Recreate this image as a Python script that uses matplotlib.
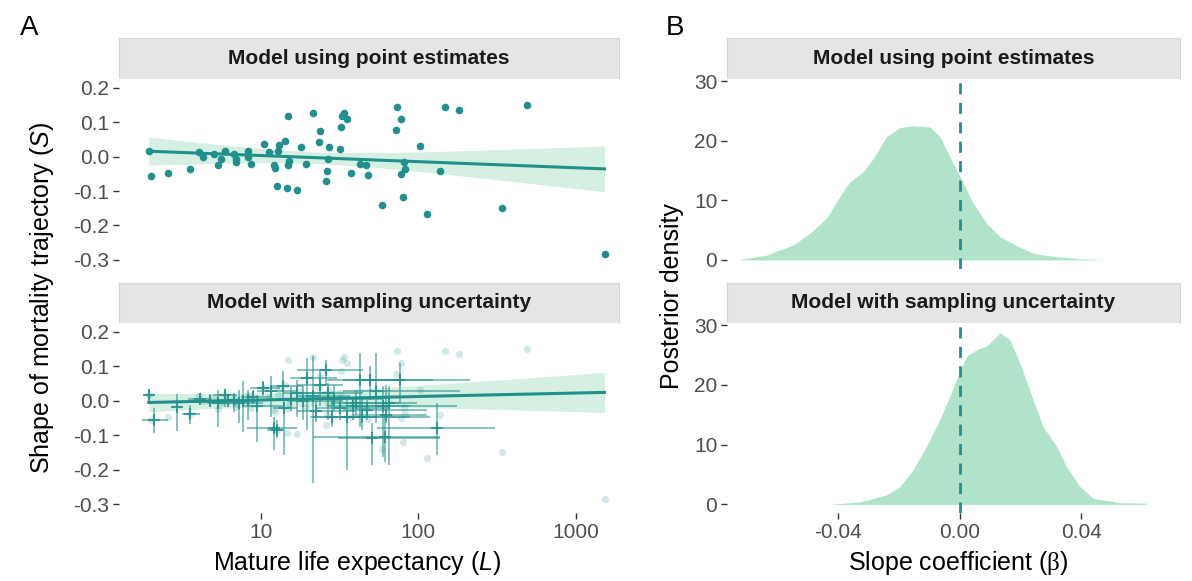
import numpy as np
import matplotlib
matplotlib.use("Agg")
import matplotlib.pyplot as plt

plt.rcParams['font.family'] = ['Liberation Sans', 'DejaVu Sans']
plt.rcParams['mathtext.fontset'] = 'custom'
plt.rcParams['mathtext.rm'] = 'Liberation Sans'
plt.rcParams['mathtext.it'] = 'Liberation Sans:italic'
plt.rcParams['mathtext.sf'] = 'Liberation Serif'   # serif slot, used for the Greek beta
plt.rcParams['axes.unicode_minus'] = False

TEAL = '#21908C'
RIBBON = '#D5F0E2'
DENS = '#B0E3C9'
STRIP = '#E5E5E5'

# point estimates of mature life expectancy (L) and shape (S) per species
pts_L = [1.96, 2.01, 2.59, 3.57, 4.07, 4.33, 5.08, 5.39, 5.60, 5.92,
         6.77, 6.94, 7.0, 8.30, 8.27, 8.72, 10.5, 11.3, 12.2, 12.4,
         12.6, 12.9, 13.1, 14.2, 14.8, 14.6, 15.2, 14.8, 16.9, 18.0,
         19.5, 21.6, 23.9, 23.5, 27.1, 26.7, 26.3, 25.8, 31.9, 32.5,
         32.6, 33.7, 35.4, 37.2, 42.8, 46.3, 47.6, 59.0, 71.7, 72.8,
         77.6, 80.6, 82.3, 77.1, 80.2, 102.8, 112.7, 136.4, 146.7, 181.7,
         338.5, 485, 1524]
pts_S = [0.017, -0.055, -0.048, -0.037, 0.013, -0.001, 0.008, -0.024, -0.007, 0.017,
         0.008, -0.007, -0.017, 0.016, -0.001, -0.021, 0.037, 0.012, -0.025, -0.032,
         -0.086, 0.017, 0.033, 0.046, 0.119, -0.092, -0.013, -0.024, -0.096, 0.027,
         -0.022, 0.128, 0.073, 0.041, 0.029, -0.007, -0.041, -0.070, 0.022, 0.087,
         0.118, 0.126, 0.110, -0.048, -0.021, -0.025, -0.054, -0.140, 0.078, 0.144,
         0.110, -0.017, -0.035, -0.050, -0.118, 0.030, -0.167, -0.042, 0.144, 0.135,
         -0.149, 0.150, -0.284]

# species with sampling uncertainty: centre and interval bounds
unc_L = [1.97, 2.12, 2.93, 3.56, 4.12, 4.77, 5.39, 5.94, 6.77, 7.32,
         7.76, 8.35, 9.52, 10.4, 11.7, 12.1, 12.6, 13.9, 14.1, 16.9,
         18.5, 19.6, 21.6, 23.8, 25.9, 26.9, 28.2, 31.8, 35.1, 38.7,
         42.6, 43.7, 47.0, 49.3, 50.5, 53.8, 59.3, 61.4, 62.3, 64.8,
         76.4, 130.6, 15.5, 22.5, 29.0, 9.0, 6.2, 40.0]
unc_L_lo = [1.85, 1.78, 2.73, 3.15, 3.48, 4.12, 4.54, 5.01, 5.52, 5.79,
            6.39, 7.04, 7.76, 8.55, 9.43, 8.15, 10.9, 11.5, 12.0, 13.9,
            14.6, 15.3, 16.9, 16.9, 16.9, 18.6, 20.5, 22.6, 21.6, 26.2,
            26.2, 31.8, 33.4, 33.4, 31.1, 33.4, 38.7, 21.6, 38.7, 33.4,
            44.8, 54.4, 12.5, 17.0, 20.0, 7.5, 5.3, 28.0]
unc_L_hi = [2.14, 2.60, 3.15, 4.12, 4.77, 5.79, 6.71, 7.04, 8.55, 10.4,
            9.43, 12.6, 13.9, 13.3, 16.9, 16.9, 13.9, 18.6, 16.9, 26.2,
            33.4, 30.3, 36.8, 33.4, 44.8, 44.8, 54.4, 66.1, 118.5, 88.5,
            80.3, 88.5, 112.8, 124.4, 137.1, 183.5, 174.8, 137.1, 112.8, 97.5,
            212.4, 306.0, 22.0, 40.0, 60.0, 11.5, 7.5, 75.0]
unc_S = [0.0175, -0.055, -0.018, -0.038, 0.006, -0.002, -0.007, 0.018, 0.003, -0.007,
         -0.002, 0.003, -0.016, 0.037, 0.027, -0.079, -0.084, 0.044, -0.021, 0.022,
         -0.002, 0.066, 0.013, 0.047, 0.090, 0.022, -0.046, -0.021, -0.046, -0.016,
         0.061, -0.046, -0.026, 0.061, -0.107, 0.027, -0.016, -0.104, -0.041, -0.007,
         0.061, -0.079, 0.005, -0.030, 0.005, 0.010, 0.000, -0.005]
unc_S_lo = [-0.002, -0.094, -0.087, -0.067, -0.013, -0.018, -0.077, -0.018, -0.031, -0.065,
            -0.089, -0.055, -0.118, 0.013, -0.046, -0.142, -0.109, 0.003, -0.157, -0.046,
            -0.055, -0.084, -0.239, -0.016, 0.042, -0.055, -0.075, -0.055, -0.201, -0.055,
            -0.075, -0.084, -0.055, 0.003, -0.186, -0.065, -0.162, -0.176, -0.065, -0.186,
            -0.007, -0.157, -0.030, -0.060, -0.030, -0.010, -0.015, -0.040]
unc_S_hi = [0.032, -0.021, 0.020, -0.012, 0.024, 0.020, 0.030, 0.034, 0.024, 0.032,
            0.056, 0.032, 0.018, 0.056, 0.073, -0.046, -0.055, 0.085, 0.003, 0.061,
            0.042, 0.124, 0.129, 0.090, 0.119, 0.051, 0.003, 0.013, 0.003, 0.008,
            0.139, 0.013, 0.003, 0.100, -0.065, 0.139, 0.042, -0.046, 0.047, 0.042,
            0.110, -0.007, 0.040, 0.000, 0.045, 0.030, 0.015, 0.030]

# fitted regression lines with credible bands
fit_L = [1.95, 3.98, 8.91, 22.4, 56.2, 125.9, 316, 708, 1514]
fit1_S = [0.0157, 0.0102, 0.0040, -0.0031, -0.0103, -0.0165, -0.0236, -0.0298, -0.0357]
fit1_lo = [-0.0250, -0.0208, -0.0176, -0.0194, -0.0319, -0.0475, -0.0673, -0.0851, -0.1022]
fit1_hi = [0.0564, 0.0412, 0.0256, 0.0132, 0.0113, 0.0145, 0.0201, 0.0255, 0.0308]

fit2_L = [1.95, 3.98, 10.0, 25.1, 63.1, 158.5, 398, 794, 1514]
fit2_S = [-0.0048, -0.0017, 0.0023, 0.0064, 0.0104, 0.0145, 0.0185, 0.0215, 0.0243]
fit2_lo = [-0.0315, -0.0240, -0.0177, -0.0159, -0.0178, -0.0215, -0.0262, -0.0300, -0.0337]
fit2_hi = [0.0219, 0.0206, 0.0223, 0.0287, 0.0386, 0.0505, 0.0632, 0.0730, 0.0823]

# posterior densities of the slope
beta_top = [-0.0724, -0.0636, -0.0548, -0.0493, -0.0439, -0.0395, -0.0362, -0.0318,
            -0.0285, -0.0241, -0.0197, -0.0154, -0.0099, -0.0066, -0.0033, 0.0,
            0.0044, 0.0088, 0.0132, 0.0186, 0.0241, 0.0307, 0.0395, 0.0477]
dens_top = [0.1, 0.8, 2.5, 4.5, 7.0, 10.6, 13.1, 14.8, 17.0, 20.7, 22.2, 22.5,
            22.3, 20.7, 17.3, 14.0, 9.5, 6.1, 3.9, 2.4, 1.1, 0.6, 0.2, 0.0]
beta_bot = [-0.0433, -0.0329, -0.0241, -0.0197, -0.0154, -0.011, -0.0066, -0.0033,
            0.0, 0.0022, 0.0055, 0.0088, 0.0132, 0.0164, 0.0197, 0.0241, 0.0274,
            0.0318, 0.0351, 0.0395, 0.0439, 0.0526, 0.0614]
dens_bot = [0.0, 0.4, 1.6, 3.0, 5.8, 9.7, 14.2, 18.1, 22.3, 24.8, 25.9, 26.5,
            28.7, 27.6, 23.7, 17.5, 13.0, 9.7, 6.3, 3.0, 1.0, 0.3, 0.2]

titles = ['Model using point estimates', 'Model with sampling uncertainty']

W, H = 1192, 581
fig = plt.figure(figsize=(W / 100, H / 100), dpi=100)


def box(x0, y0, x1, y1):
    return [x0 / W, 1 - y1 / H, (x1 - x0) / W, (y1 - y0) / H]


def style(ax):
    for s in ax.spines.values():
        s.set_visible(False)
    ax.tick_params(length=4, width=1, color='#333333', labelcolor='#4D4D4D',
                   labelsize=15, pad=3)
    ax.tick_params(which='minor', length=0)


def strip(x0, y0, x1, y1, label):
    sa = fig.add_axes(box(x0, y0, x1, y1))
    sa.set_facecolor(STRIP)
    for s in sa.spines.values():
        s.set_color('#D6D6D6')
    sa.set_xticks([])
    sa.set_yticks([])
    sa.text(0.5, 0.5, label, ha='center', va='center', fontsize=15,
            fontweight='bold', color='#1A1A1A', transform=sa.transAxes)


rows = [(38.3, 79.3, 268.5), (282.7, 323.3, 513)]
yt = [0.2, 0.1, 0.0, -0.1, -0.2, -0.3]
ytl = ['0.2', '0.1', '0.0', '-0.1', '-0.2', '-0.3']

# panel A
for i, (sy0, py0, py1) in enumerate(rows):
    strip(119, sy0, 619, py0, titles[i])
    ax = fig.add_axes(box(119, py0, 619, py1))
    style(ax)
    ax.set_xscale('log')
    if i == 0:
        ax.fill_between(fit_L, fit1_lo, fit1_hi, color=RIBBON, lw=0, zorder=1)
        ax.plot(fit_L, fit1_S, color=TEAL, lw=2.2, zorder=2)
        ax.scatter(pts_L, pts_S, s=30, color=TEAL, lw=0, zorder=3)
    else:
        ax.fill_between(fit2_L, fit2_lo, fit2_hi, color=RIBBON, lw=0, zorder=1)
        ax.scatter(pts_L, pts_S, s=26, color=TEAL, alpha=0.2, lw=0, zorder=2)
        cx, cy = np.array(unc_L), np.array(unc_S)
        ax.errorbar(cx, cy,
                    xerr=[cx - np.array(unc_L_lo), np.array(unc_L_hi) - cx],
                    yerr=[cy - np.array(unc_S_lo), np.array(unc_S_hi) - cy],
                    fmt='none', ecolor=TEAL, alpha=0.55, elinewidth=1.4,
                    capsize=0, zorder=3)
        ax.scatter(cx, cy, marker='+', s=70, color=TEAL, lw=1.5, alpha=0.8, zorder=3)
        ax.plot(fit2_L, fit2_S, color=TEAL, lw=2.2, zorder=4)
    ax.set_xlim(1.263, 1871)
    ax.set_ylim(-0.325, 0.2245)
    ax.set_yticks(yt)
    ax.set_yticklabels(ytl)
    ax.set_xticks([10, 100, 1000])
    if i == 1:
        ax.set_xticklabels(['10', '100', '1000'])
    else:
        ax.tick_params(axis='x', length=0, labelbottom=False)

# panel B
for i, (sy0, py0, py1) in enumerate(rows):
    strip(727, sy0, 1180, py0, titles[i])
    ax = fig.add_axes(box(727, py0, 1180, py1))
    style(ax)
    if i == 0:
        ax.fill_between(beta_top, 0, dens_top, color=DENS, lw=0)
    else:
        ax.fill_between(beta_bot, 0, dens_bot, color=DENS, lw=0)
    ax.axvline(0, color=TEAL, lw=2, ls=(0, (4, 3)))
    ax.set_xlim(-0.0766, 0.0724)
    ax.set_ylim(-1.44, 30.3)
    ax.set_yticks([0, 10, 20, 30])
    ax.set_xticks([-0.04, 0.0, 0.04])
    if i == 1:
        ax.set_xticklabels(['-0.04', '0.00', '0.04'])
    else:
        ax.tick_params(axis='x', length=0, labelbottom=False)

fig.text(20 / W, 1 - 28 / H, 'A', fontsize=20, ha='left', va='center')
fig.text(666 / W, 1 - 28 / H, 'B', fontsize=20, ha='left', va='center')
fig.text(42 / W, 1 - 298 / H, 'Shape of mortality trajectory ($S$)', rotation=90,
         fontsize=18, ha='center', va='center')
fig.text(357 / W, 1 - 563 / H, 'Mature life expectancy ($L$)', fontsize=18,
         ha='center', va='center')
fig.text(672 / W, 1 - 296 / H, 'Posterior density', rotation=90, fontsize=18,
         ha='center', va='center')
fig.text(958 / W, 1 - 563 / H, r'Slope coefficient ($\mathsf{\beta}$)', fontsize=18,
         ha='center', va='center')

fig.savefig('out.png', dpi=100)
